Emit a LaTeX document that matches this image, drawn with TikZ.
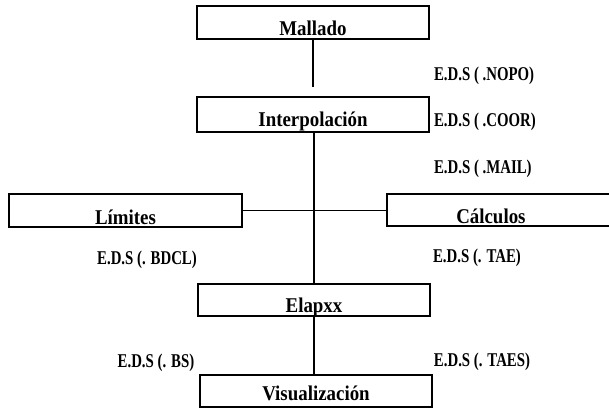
\documentclass[tikz,border=0pt]{standalone}
\usepackage{fontspec}
\setmainfont{Liberation Serif}
\newfontfamily\cajafont[FakeStretch=0.9]{Liberation Serif}
\newfontfamily\edsfont[FakeStretch=0.76]{Liberation Serif}
\usetikzlibrary{positioning}
\tikzset{%
  caja/.style={draw,line width=1.8pt,minimum width=232pt,inner xsep=0pt,inner ysep=0pt,
    text height=29pt,text depth=4pt,font=\cajafont\bfseries\fontsize{21}{21}\selectfont},
  eds/.style={inner sep=0pt,font=\edsfont\bfseries\fontsize{19.5}{19.5}\selectfont},
  enlace/.style={line width=1.8pt}
}

\begin{document}
\begin{tikzpicture}[x=1pt,y=-1pt]
  \useasboundingbox (0,0) rectangle (609,407);

  \node[caja] (mall) at (313,22.5) {Mallado};
  \node[caja,text depth=6pt] (interp) at (313,114.5) {Interpolación};
  \node[caja,minimum width=233pt,text height=30pt,text depth=3pt] (lim) at (125.5,210.5) {Límites};
  \node[caja,minimum width=226pt,text depth=3pt,anchor=west] (calc) at (386,210) {\hspace{-18pt}Cálculos};
  \node[caja,text height=28pt] (elap) at (314,300) {Elapxx};
  \node[caja,text height=25pt,text depth=7pt] (vis) at (316,391) {Visualización};

  \coordinate (corte) at (313,87);
  \draw[enlace] (mall.south) -- (corte);
  \draw[enlace] (elap.north |- interp.south) -- (elap.north);
  \draw[enlace] (lim.east) -- (lim.east -| calc.west);
  \draw[enlace] (elap.south) -- (elap.south |- vis.north);

  \node[eds,base right=4pt of interp] (coor) {E.D.S ( .COOR)};
  \node[eds,anchor=base west] (nopo) at ([yshift=46pt]coor.base west) {E.D.S ( .NOPO)};
  \node[eds,anchor=base west] (mail) at ([yshift=-47pt]coor.base west) {E.D.S ( .MAIL)};

  \node[eds] (bdcl) at (147,260) {E.D.S (. BDCL)};
  \node[eds] (tae) at (477,258) {E.D.S (. TAE)};
  \node[eds] (bs) at (156,363) {E.D.S (. BS)};
  \node[eds] (taes) at (482,362) {E.D.S (. TAES)};
\end{tikzpicture}
\end{document}
